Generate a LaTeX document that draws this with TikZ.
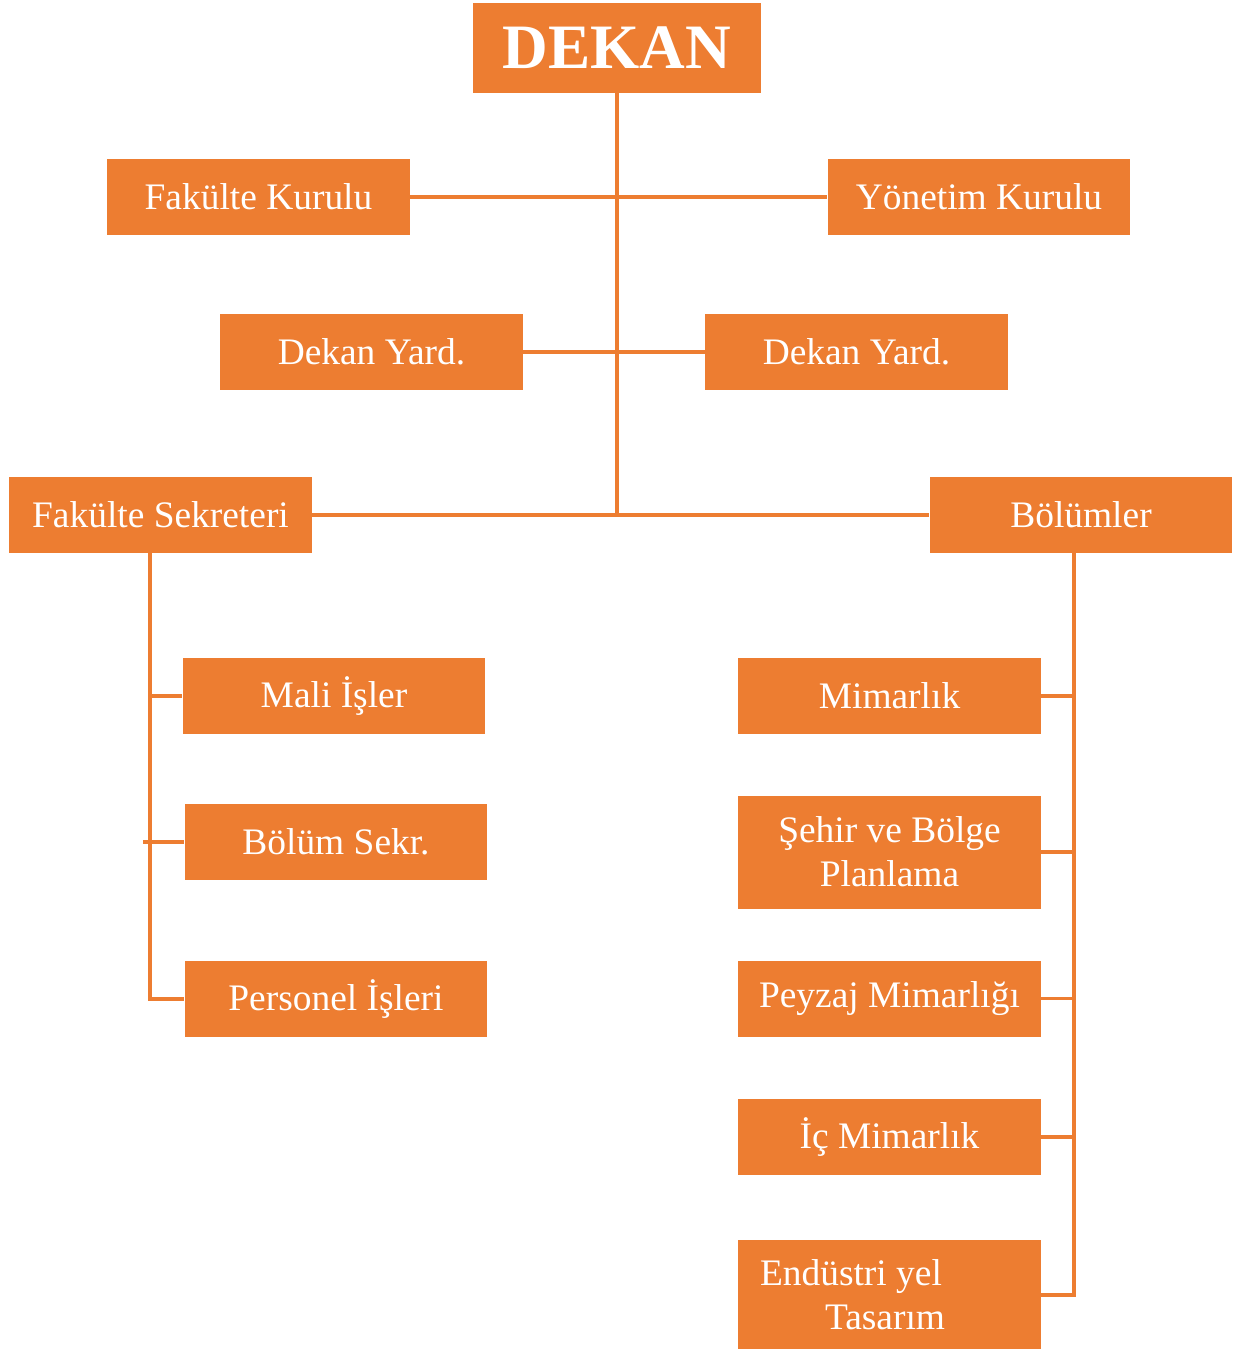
\documentclass[tikz,border=0pt]{standalone}
\usepackage{fontspec}
\setmainfont{Liberation Serif}
\usepackage{tikz}
\usetikzlibrary{positioning}
\definecolor{turuncu}{HTML}{ED7D31}

\begin{document}
\begin{tikzpicture}[x=0.02cm,y=-0.02cm,
  kutu/.style={fill=turuncu,text=white,minimum width=6.06cm,minimum height=1.52cm,inner sep=0pt,
    font=\fontsize{21.3pt}{25pt}\selectfont,align=center},
  hat/.style={draw=turuncu,line width=2pt}]
\useasboundingbox (0,0) rectangle (1233,1349);
% ust kisim
\node[kutu,minimum width=5.76cm,minimum height=1.8cm,font=\fontsize{36pt}{40pt}\selectfont\bfseries] (dekan) at (617,48) {DEKAN};
\node[kutu] (fkurul) at (258.5,197) {Fakülte Kurulu};
\node[kutu] (ykurul) at (979,197) {Yönetim Kurulu};
\node[kutu] (yard1) at (371.5,352) {Dekan Yard.};
\node[kutu] (yard2) at (856.5,352) {Dekan Yard.};
\node[kutu] (sekr) at (160.5,515) {Fakülte Sekreteri};
\node[kutu] (bolum) at (1081,515) {Bölümler};
% sol dal
\node[kutu] (mali) at (334,696) {Mali İşler};
\node[kutu] (bsekr) at (336,842) {Bölüm Sekr.};
\node[kutu] (pers) at (336,999) {Personel İşleri};
% sag dal
\node[kutu] (mim) at (889.5,696) {Mimarlık};
\node[kutu,minimum height=2.26cm] (sehir) at (889.5,852) {Şehir ve Bölge\\Planlama};
\node[kutu] (peyzaj) at (889.5,998.5) {Peyzaj Mimarlığı};
\node[kutu] (icmim) at (889.5,1137) {İç Mimarlık};
\node[kutu,minimum height=2.22cm,align=left] (endus) at (889.5,1295)
  {\makebox[5.18cm][l]{Endüstri yel}\\\hspace*{1.3cm}Tasarım};
% baglantilar
\draw[hat] (dekan.south) -- (dekan.south |- sekr.east);
\draw[hat] (fkurul.east) -- (ykurul.west);
\draw[hat] (yard1.east) -- (yard2.west);
\draw[hat] (sekr.east) -- (bolum.west);
\coordinate (solust) at (150,552);
\coordinate (sagust) at (1074,552);
\draw[hat] (solust) -- (solust |- pers.west) -- (pers.west);
\draw[hat] (solust |- mali.west) -- (mali.west);
\draw[hat] ([xshift=-4]solust |- bsekr.west) -- (bsekr.west);
\draw[hat] (sagust) -- (sagust |- endus.east) -- (endus.east);
\draw[hat] (sagust |- mim.east) -- (mim.east);
\draw[hat] (sagust |- sehir.east) -- (sehir.east);
\draw[hat] (sagust |- peyzaj.east) -- (peyzaj.east);
\draw[hat] (sagust |- icmim.east) -- (icmim.east);
\end{tikzpicture}
\end{document}
